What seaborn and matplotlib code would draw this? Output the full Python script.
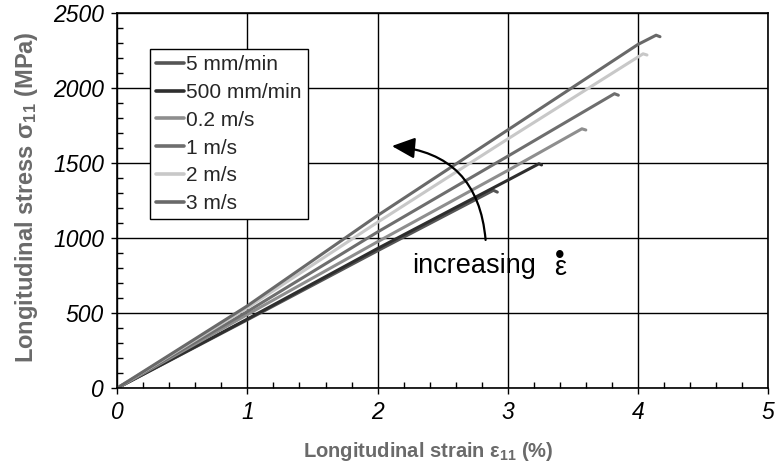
import matplotlib
matplotlib.use("Agg")
import matplotlib.pyplot as plt
from matplotlib.ticker import MultipleLocator
import numpy as np
import pandas as pd
import seaborn as sns

# Stress-strain curves of the composite at six loading rates
rates = ["5 mm/min", "500 mm/min", "0.2 m/s", "1 m/s", "2 m/s", "3 m/s"]

strain_5mm = [0.0, 1.0, 2.0, 2.89, 2.92]
stress_5mm = [0, 455, 915, 1318, 1306]

strain_500mm = [0.0, 1.0, 2.0, 3.0, 3.24, 3.26]
stress_500mm = [0, 460, 930, 1385, 1495, 1487]

strain_02ms = [0.0, 1.0, 2.0, 3.0, 3.57, 3.60]
stress_02ms = [0, 490, 975, 1450, 1728, 1720]

strain_1ms = [0.0, 1.0, 2.0, 3.0, 3.82, 3.85]
stress_1ms = [0, 510, 1040, 1545, 1962, 1952]

strain_2ms = [0.0, 1.0, 2.0, 3.0, 4.04, 4.07]
stress_2ms = [0, 535, 1105, 1660, 2228, 2220]

strain_3ms = [0.0, 1.0, 2.0, 3.0, 4.0, 4.14, 4.17]
stress_3ms = [0, 548, 1150, 1720, 2290, 2352, 2342]

colors = ["#555555", "#2e2e2e", "#8e8e8e", "#6e6e6e", "#c8c8c8", "#696969"]

x_ticks = [0, 1, 2, 3, 4, 5]
y_ticks = [0, 500, 1000, 1500, 2000, 2500]

strains = [strain_5mm, strain_500mm, strain_02ms, strain_1ms, strain_2ms, strain_3ms]
stresses = [stress_5mm, stress_500mm, stress_02ms, stress_1ms, stress_2ms, stress_3ms]
frames = []
for rate, s, t in zip(rates, strains, stresses):
    frames.append(pd.DataFrame({"strain": s, "stress": t, "rate": rate,
                                "order": np.arange(len(s))}))
df = pd.concat(frames, ignore_index=True)

sns.set_theme(style="ticks")
plt.rcParams["font.family"] = ["Liberation Sans", "DejaVu Sans"]
plt.rcParams["mathtext.default"] = "regular"

W, H = 777, 473
fig = plt.figure(figsize=(W / 100, H / 100), dpi=100)
x0, x1, y0, y1 = 117.3, 768.0, 13.0, 388.0
ax = fig.add_axes([x0 / W, 1 - y1 / H, (x1 - x0) / W, (y1 - y0) / H])

sns.lineplot(data=df, x="strain", y="stress", hue="rate", hue_order=rates,
             palette=colors, sort=False, estimator=None, units="rate",
             linewidth=2.2, ax=ax)

ax.set_xlim(0, 5)
ax.set_ylim(0, 2500)
ax.set_xticks(x_ticks)
ax.set_yticks(y_ticks)
ax.set_xticklabels([str(v) for v in x_ticks])
ax.set_yticklabels([str(v) for v in y_ticks])
ax.xaxis.set_minor_locator(MultipleLocator(0.2))
ax.yaxis.set_minor_locator(MultipleLocator(100))
ax.tick_params(which="major", direction="out", length=4, width=1.0,
               color="black", labelsize=16.5, pad=5.5, labelcolor="black")
ax.tick_params(which="minor", direction="in", length=4.5, width=1.0,
               color="black")
for lab in ax.get_xticklabels() + ax.get_yticklabels():
    lab.set_fontstyle("italic")

ax.grid(True, which="major", color="black", linewidth=1.0)
ax.set_axisbelow(True)
for sp in ax.spines.values():
    sp.set_visible(True)
    sp.set_color("black")
    sp.set_linewidth(1.2)

label_color = "#6a6a6a"
ax.set_xlabel("Longitudinal strain ε$_{11}$ (%)", fontsize=14.5, fontweight="bold",
              color=label_color, va="center")
ax.xaxis.set_label_coords(0.4775, -0.168)
ax.set_ylabel("Longitudinal stress σ$_{11}$ (MPa)", fontsize=17,
              fontweight="bold", color=label_color, va="center")
ax.yaxis.set_label_coords(-0.140, 0.508)

handles, labels = ax.get_legend_handles_labels()
leg = ax.legend(handles, labels, loc="upper left",
                bbox_to_anchor=(0.050, 0.904), borderaxespad=0,
                fontsize=15, frameon=True, fancybox=False, framealpha=1,
                handlelength=1.35, handletextpad=0.08, labelspacing=0.42,
                borderpad=0.3)
leg.get_frame().set_edgecolor("black")
leg.get_frame().set_linewidth(1.0)
for ln in leg.get_lines():
    ln.set_linewidth(2.6)

# curved arrow indicating increasing strain rate
ax.annotate("", xy=(2.11, 1613), xytext=(2.83, 987),
            arrowprops=dict(arrowstyle="-|>,head_length=0.7,head_width=0.32",
                            connectionstyle="arc3,rad=0.42", color="black",
                            lw=1.6, shrinkA=0, shrinkB=0, mutation_scale=20))
ax.text(2.265, 767, "increasing", fontsize=19.5, color="black",
        ha="left", va="baseline")
# strain-rate symbol: epsilon with a dot above, as one two-line text
ax.text(3.40, 713, "•\nε", fontsize=19.5, color="black", ha="center",
        va="bottom", multialignment="center", linespacing=0.32)

fig.savefig("out.png", dpi=100)
